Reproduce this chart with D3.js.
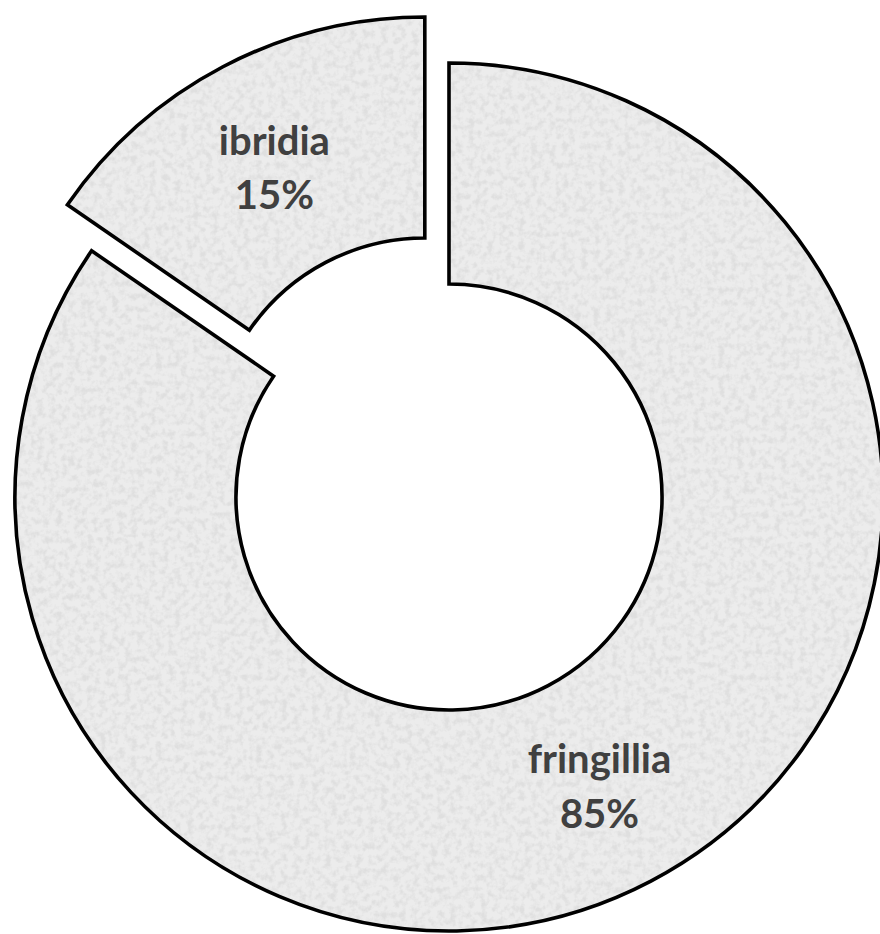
<!DOCTYPE html>
<html>
<head>
<meta charset="utf-8">
<script src="https://cdn.jsdelivr.net/npm/d3@7"></script>
<style>
  body { margin: 0; background: #fff; }
</style>
</head>
<body>
<div id="chart"></div>
<script>
var width = 880;
var height = 934;

// data
var categories = ["fringillia", "ibridia"];
var values = [84.6, 15.4];
var explode = [0, 52]; // how far each slice is pulled out

var cx = 449, cy = 497;
var outerR = 434, innerR = 213;

var svg = d3.select("#chart")
  .append("svg")
  .attr("width", width)
  .attr("height", height);

var defs = svg.append("defs");

// grainy grey texture like the original fill
var f = defs.append("filter")
  .attr("id", "grain")
  .attr("x", 0).attr("y", 0).attr("width", "100%").attr("height", "100%");
f.append("feTurbulence")
  .attr("type", "fractalNoise")
  .attr("baseFrequency", 0.16)
  .attr("numOctaves", 3)
  .attr("seed", 7)
  .attr("result", "noise");
f.append("feColorMatrix")
  .attr("in", "noise")
  .attr("type", "matrix")
  .attr("values", "0 0 0 0 0.74  0 0 0 0 0.74  0 0 0 0 0.74  0 0 0 -3.0 1.75");

var pie = d3.pie().sort(null).value(function(d) { return d; });
var arcs = pie(values);

var arc = d3.arc().innerRadius(innerR).outerRadius(outerR);

function shift(d, i) {
  var a = (d.startAngle + d.endAngle) / 2;
  var dx = Math.sin(a) * explode[i];
  var dy = -Math.cos(a) * explode[i];
  return "translate(" + (cx + dx) + "," + (cy + dy) + ")";
}

var clip = defs.append("clipPath").attr("id", "sliceClip");
clip.selectAll("path")
  .data(arcs)
  .enter()
  .append("path")
  .attr("transform", shift)
  .attr("d", arc);

var slices = svg.append("g");

slices.selectAll("path.fill")
  .data(arcs)
  .enter()
  .append("path")
  .attr("class", "fill")
  .attr("transform", shift)
  .attr("d", arc)
  .style("fill", "#ececec");

// noise clipped to slices
svg.append("rect")
  .attr("width", width)
  .attr("height", height)
  .attr("clip-path", "url(#sliceClip)")
  .attr("filter", "url(#grain)");

svg.append("g").selectAll("path")
  .data(arcs)
  .enter()
  .append("path")
  .attr("transform", shift)
  .attr("d", arc)
  .style("fill", "none")
  .style("stroke", "#000")
  .style("stroke-width", 3.6)
  .style("stroke-linejoin", "miter");

// labels
var lab = svg.append("g").selectAll("text")
  .data(arcs)
  .enter()
  .append("text")
  .attr("transform", function(d, i) {
    var a = (d.startAngle + d.endAngle) / 2;
    var r = (innerR + outerR) / 2 + explode[i];
    return "translate(" + (cx + Math.sin(a) * r) + "," + (cy - Math.cos(a) * r) + ")";
  })
  .attr("text-anchor", "middle")
  .style("font-family", "Lato, 'Open Sans', sans-serif")
  .style("font-weight", "bold")
  .style("font-size", "40px")
  .style("fill", "#404040");

lab.append("tspan")
  .attr("x", 0)
  .attr("dy", "-0.25em")
  .text(function(d, i) { return categories[i]; });

lab.append("tspan")
  .attr("x", 0)
  .attr("dy", "1.37em")
  .text(function(d) { return Math.round(d.value) + "%"; });
</script>
</body>
</html>
